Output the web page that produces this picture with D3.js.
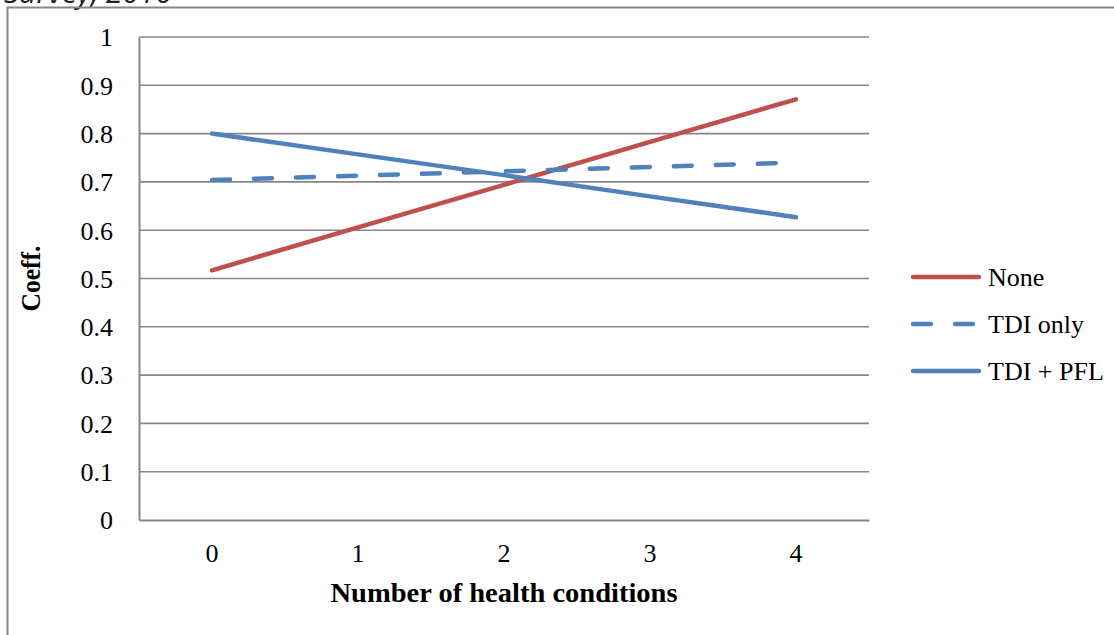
<!DOCTYPE html>
<html>
<head>
<meta charset="utf-8">
<script src="https://cdn.jsdelivr.net/npm/d3@7"></script>
<style>
  html, body { margin: 0; padding: 0; background: #fff; }
  svg { display: block; }
</style>
</head>
<body>
<svg id="chart" width="1114" height="635"></svg>
<script>
const categories = ["0", "1", "2", "3", "4"];
const yTicks = [0, 0.1, 0.2, 0.3, 0.4, 0.5, 0.6, 0.7, 0.8, 0.9, 1];
const yTickLabels = ["0", "0.1", "0.2", "0.3", "0.4", "0.5", "0.6", "0.7", "0.8", "0.9", "1"];
const seriesNames = ["None", "TDI only", "TDI + PFL"];
const noneValues = [0.517, 0.606, 0.694, 0.783, 0.871];
const tdiOnlyValues = [0.704, 0.713, 0.722, 0.731, 0.740];
const tdiPflValues = [0.800, 0.757, 0.714, 0.670, 0.627];

const series = [
  { name: seriesNames[0], values: noneValues, color: "#C0504D", dash: null },
  { name: seriesNames[1], values: tdiOnlyValues, color: "#4F81BD", dash: "18,24" },
  { name: seriesNames[2], values: tdiPflValues, color: "#4F81BD", dash: null }
];

const svg = d3.select("#chart");
const serif = "'Liberation Serif', 'DejaVu Serif', serif";
const gray = "#878787";

// document text above the chart, cut by the top edge as in the reference
svg.append("text")
  .attr("x", 4).attr("y", 3)
  .attr("font-family", "'Open Sans', 'Liberation Sans', sans-serif")
  .attr("font-style", "italic")
  .attr("font-size", 30)
  .attr("fill", "#222")
  .text("Survey, 2010");

// outer chart border
svg.append("path")
  .attr("d", "M7.5,640 L7.5,7.5 L1120,7.5")
  .attr("fill", "none").attr("stroke", gray).attr("stroke-width", 2);

const plot = { left: 139, right: 869, top: 37, bottom: 520 };

const x = d3.scaleBand().domain(categories).range([plot.left, plot.right]);
const y = d3.scaleLinear().domain([0, 1]).range([plot.bottom, plot.top]);

// gridlines
svg.append("g")
  .selectAll("line")
  .data(yTicks.slice(1))
  .join("line")
  .attr("x1", plot.left).attr("x2", plot.right)
  .attr("y1", d => y(d)).attr("y2", d => y(d))
  .attr("stroke", gray).attr("stroke-width", 1.6);

// y axis
const yAxis = svg.append("g")
  .attr("transform", `translate(${plot.left},0)`)
  .call(d3.axisLeft(y).tickValues(yTicks).tickFormat((d, i) => yTickLabels[i]).tickSize(0).tickPadding(26));
yAxis.select(".domain").attr("stroke", gray).attr("stroke-width", 2);
yAxis.selectAll("text")
  .attr("font-family", serif).attr("font-size", 26).attr("fill", "#000")
  .attr("dy", "0.34em");

// x axis
const xAxis = svg.append("g")
  .attr("transform", `translate(0,${plot.bottom})`)
  .call(d3.axisBottom(x).tickSize(0).tickPadding(24));
xAxis.select(".domain").attr("stroke", gray).attr("stroke-width", 2);
xAxis.selectAll("text")
  .attr("font-family", serif).attr("font-size", 26).attr("fill", "#000");

// axis titles
svg.append("text")
  .attr("x", (plot.left + plot.right) / 2).attr("y", 602)
  .attr("text-anchor", "middle")
  .attr("font-family", serif).attr("font-weight", "bold").attr("font-size", 27)
  .attr("textLength", 347).attr("lengthAdjust", "spacingAndGlyphs")
  .attr("fill", "#000")
  .text("Number of health conditions");

svg.append("text")
  .attr("transform", `translate(40,${(plot.top + plot.bottom) / 2}) rotate(-90)`)
  .attr("text-anchor", "middle")
  .attr("font-family", serif).attr("font-weight", "bold").attr("font-size", 27)
  .attr("textLength", 66).attr("lengthAdjust", "spacingAndGlyphs")
  .attr("fill", "#000")
  .text("Coeff.");

// lines
const line = d3.line()
  .x((d, i) => x(categories[i]) + x.bandwidth() / 2)
  .y(d => y(d));

svg.append("g")
  .selectAll("path")
  .data(series)
  .join("path")
  .attr("d", d => line(d.values))
  .attr("fill", "none")
  .attr("stroke", d => d.color)
  .attr("stroke-width", 4.5)
  .attr("stroke-linecap", "round")
  .attr("stroke-linejoin", "round")
  .attr("stroke-dasharray", d => d.dash);

// legend
const legend = svg.append("g")
  .selectAll("g")
  .data(series)
  .join("g")
  .attr("transform", (d, i) => `translate(913,${277 + i * 47})`);
legend.append("line")
  .attr("x1", 0).attr("x2", 66).attr("y1", 0).attr("y2", 0)
  .attr("stroke", d => d.color)
  .attr("stroke-width", 4.5)
  .attr("stroke-linecap", "round")
  .attr("stroke-dasharray", d => d.dash);
legend.append("text")
  .attr("x", 75).attr("y", 0).attr("dy", "0.34em")
  .attr("font-family", serif).attr("font-size", 26).attr("fill", "#000")
  .text(d => d.name);
</script>
</body>
</html>
